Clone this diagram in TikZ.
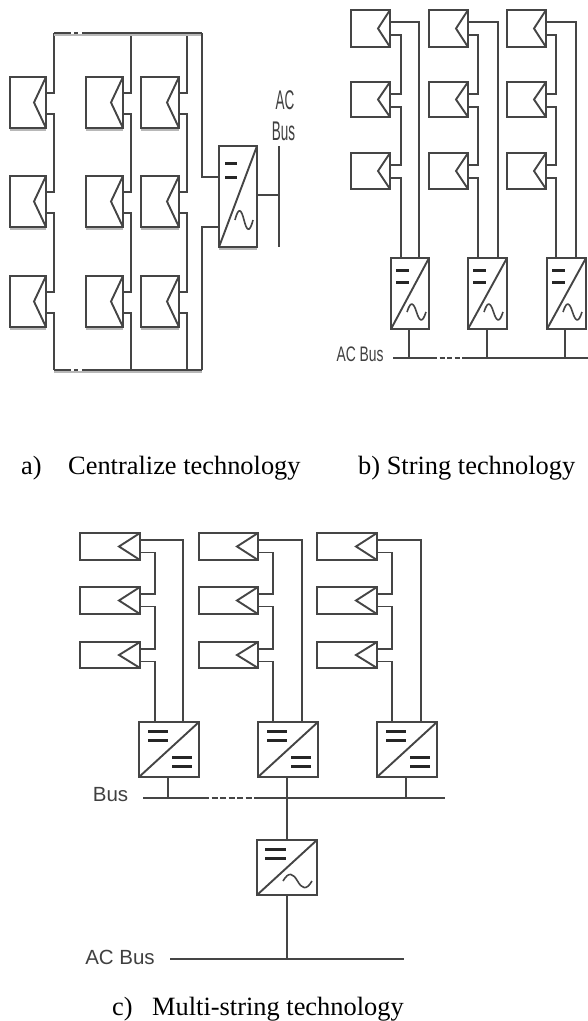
\documentclass[tikz,border=0pt]{standalone}
\usepackage{fontspec}
\setmainfont{Liberation Serif}
\newfontfamily\lblsans{Liberation Sans}
\definecolor{ink}{gray}{0.27}
\definecolor{lblink}{gray}{0.25}
\definecolor{halo}{gray}{0.72}
\tikzset{
  wire/.style={draw=ink,line width=1.9pt},
  thinwire/.style={draw=ink,line width=1.5pt},
  boxnode/.style={draw=ink,line width=2pt,inner sep=0pt,outer sep=0pt,fill=white},
  shade line/.style={draw=halo,line width=2pt},
  dcbar/.style={draw=black!85,line width=3pt},
  wave/.style={draw=ink,line width=1.6pt},
  caption/.style={inner sep=0pt,anchor=base west,text=black,font=\fontsize{26.4}{28}\selectfont},
  sanslabel/.style={inner sep=0pt,text=lblink,font=\lblsans\fontsize{20.5}{22}\selectfont},
  narrowlabel/.style={inner sep=0pt,text=lblink,font=\lblsans\fontsize{27}{28}\selectfont,xscale=0.5}
}
% name x1 y1 x2 y2 apex-offset upper-wire lower-wire
\newcommand{\pvm}[8]{%
  \node[boxnode,minimum width={(#4-#2)*1pt},minimum height={(#5-#3)*1pt}] (#1) at ({(#2+#4)/2},{(#3+#5)/2}) {};
  \coordinate (#1-apex) at ({#4-#6},{(#3+#5)/2});
  \coordinate (#1-u) at (#4,{#3+#7});
  \coordinate (#1-l) at (#4,{#3+#8});
  \draw[wire] (#1.north east) -- (#1-apex) -- (#1.south east);
}
% name x1 y1 x2 y2
\newcommand{\invb}[5]{%
  \node[boxnode,minimum width={(#4-#2)*1pt},minimum height={(#5-#3)*1pt}] (#1) at ({(#2+#4)/2},{(#3+#5)/2}) {};
  \draw[wire] (#1.south west) -- (#1.north east);
}
% x1 x2 y1 y2
\newcommand{\barpair}[4]{%
  \draw[dcbar] (#1,#3) -- (#2,#3);
  \draw[dcbar] (#1,#4) -- (#2,#4);
}
% x1 x2 ymid amplitude
\newcommand{\tld}[4]{%
  \draw[wave] (#1,#3) .. controls ({(#1)+((#2)-(#1))*.2},{#3-2*#4}) and ({(#1)+((#2)-(#1))*.35},{#3-1.5*#4}) .. ({((#1)+(#2))/2},#3)
     .. controls ({(#1)+((#2)-(#1))*.65},{#3+1.5*#4}) and ({(#1)+((#2)-(#1))*.8},{#3+2*#4}) .. (#2,#3);
}
\begin{document}
\begin{tikzpicture}[x=1pt,y=-1pt]
\useasboundingbox[fill=white] (0,0) rectangle (588,1021);

%% ---------- a) centralized
\foreach \c/\xa/\xb/\xw in {1/10/46/54,2/86/123/131,3/141/179/187}{
  \coordinate (atop\c) at (\xw,33);
  \coordinate (abot\c) at (\xw,370);
  \foreach \r/\ya/\yb in {1/77/128,2/176/227,3/276/327}{
    \draw[shade line] (\xa,\yb+2) -- (\xb,\yb+2);
    \pvm{a\c\r}{\xa}{\ya}{\xb}{\yb}{12}{16}{37}
  }
  \draw[wire] (a\c1-u) -| (atop\c);
  \draw[wire] (a\c1-l) -- ++(8,0) |- (a\c2-u);
  \draw[wire] (a\c2-l) -- ++(8,0) |- (a\c3-u);
  \draw[wire] (a\c3-l) -| (abot\c);
}
\coordinate (atopR) at (202,33);
\coordinate (abotR) at (202,370);
\coordinate (atopGa) at (71,33);
\coordinate (atopGb) at (74,33);
\coordinate (atopGc) at (78,33);
\coordinate (atopGd) at (82,33);
\coordinate (abotGa) at (71,370);
\coordinate (abotGb) at (74,370);
\coordinate (abotGc) at (78,370);
\coordinate (abotGd) at (82,370);
\draw[shade line] (54,35) -- (202,35);
\draw[shade line] (54,372) -- (202,372);
\draw[wire] (atop1) -- (atopGa) (atopGb) -- (atopGc) (atopGd) -- (atopR);
\draw[wire] (abot1) -- (abotGa) (abotGb) -- (abotGc) (abotGd) -- (abotR);
\draw[shade line] (219,249) -- (257,249);
\invb{ainv}{219}{146}{257}{247}
\coordinate (ainA) at (219,177);
\coordinate (ainB) at (219,227);
\coordinate (aout) at (257,195);
\coordinate (abusT) at (279,146);
\coordinate (abusM) at (279,195);
\coordinate (abusB) at (279,247);
\draw[wire] (atopR) |- (ainA);
\draw[wire] (abotR) |- (ainB);
\draw[wire] (aout) -- (abusM);
\draw[thinwire] (abusT) -- (abusB);
\barpair{225}{237}{163}{177}
\tld{235}{253}{220}{7}
\node[narrowlabel] (aAC) at (285,100) {AC};
\node[narrowlabel] (aBus) at (283.5,131) {Bus};

%% ---------- b) string
\foreach \c/\xa/\xb/\xs/\xr/\ia/\ib/\xd in {1/351/390/401/419/391/429/409,2/429/468/478/498/468/507/487,3/507/546/556/576/547/586/565}{
  \foreach \r/\ya/\yb in {1/10/47,2/82/117,3/153/189}{
    \pvm{b\c\r}{\xa}{\ya}{\xb}{\yb}{12}{12}{25}
  }
  \invb{binv\c}{\ia}{258}{\ib}{329}
  \coordinate (bs\c) at (\xs,258);
  \coordinate (br\c) at (\xr,258);
  \coordinate (bd\c) at (\xd,329);
  \coordinate (bj\c) at (\xd,358);
  \draw[wire] (b\c1-l) -- ++(\xs-\xb,0) |- (b\c2-u);
  \draw[wire] (b\c2-l) -- ++(\xs-\xb,0) |- (b\c3-u);
  \draw[wire] (b\c3-l) -| (bs\c);
  \draw[wire] (b\c1-u) -| (br\c);
  \draw[thinwire] (bd\c) -- (bj\c);
  \barpair{\ia+5}{\ia+18}{270}{282}
  \tld{\ia+16}{\ia+35}{312}{6}
}
\coordinate (bbusL) at (393,358);
\coordinate (bbusA) at (432,358);
\coordinate (bbusB) at (465,358);
\coordinate (bbusR) at (588,358);
\draw[wire] (bbusL) -- (bbusA);
\draw[wire,dash pattern=on 5pt off 2.5pt] (bbusA) -- (bbusB);
\draw[wire] (bbusB) -- (bbusR);
\node[inner sep=0pt,text=lblink,font=\lblsans\fontsize{21}{22}\selectfont,xscale=0.66] (bAC) at (360,354) {AC Bus};

%% ---------- c) multi-string
\foreach \c/\xa/\xb/\xs/\xr/\ia/\ib/\xd in {1/80/140/155/183/139/199/168,2/199/258/273/302/258/318/287,3/317/377/392/421/377/437/406}{
  \foreach \r/\ya/\yb in {1/533/560,2/587/614,3/642/668}{
    \pvm{c\c\r}{\xa}{\ya}{\xb}{\yb}{21}{7}{19.5}
  }
  \invb{cinv\c}{\ia}{722}{\ib}{777}
  \coordinate (cs\c) at (\xs,722);
  \coordinate (cr\c) at (\xr,722);
  \coordinate (cd\c) at (\xd,777);
  \coordinate (cj\c) at (\xd,798);
  \draw[wire] (c\c1-l) -- ++(\xs-\xb,0) |- (c\c2-u);
  \draw[wire] (c\c2-l) -- ++(\xs-\xb,0) |- (c\c3-u);
  \draw[wire] (c\c3-l) -| (cs\c);
  \draw[wire] (c\c1-u) -| (cr\c);
  \draw[wire] (cd\c) -- (cj\c);
  \barpair{\ia+9}{\ia+29}{731}{740}
  \barpair{\ia+33}{\ia+53}{757}{766}
}
\coordinate (cbusL) at (143,798);
\coordinate (cbusA) at (203,798);
\coordinate (cbusB) at (255,798);
\coordinate (cbusR) at (445,798);
\draw[wire] (cbusL) -- (cbusA);
\draw[wire,dash pattern=on 6pt off 2.5pt] (cbusA) -- (cbusB);
\draw[wire] (cbusB) -- (cbusR);
\invb{cinv}{257}{840}{317}{895}
\coordinate (cinT) at (287,840);
\coordinate (cinB) at (287,895);
\coordinate (cacJ) at (287,959);
\coordinate (cacL) at (170,959);
\coordinate (cacR) at (404,959);
\draw[wire] (cj2) -- (cinT);
\draw[wire] (cinB) -- (cacJ);
\draw[wire] (cacL) -- (cacR);
\barpair{265}{286}{849}{858}
\tld{283}{312}{881}{5}
\node[sanslabel] (cBus) at (110.5,795) {Bus};
\node[sanslabel] (cAC) at (120,957) {AC Bus};

%% ---------- captions
\node[caption] (capa1) at (21,474) {a)};
\node[caption] (capa2) at (68,474) {Centralize technology};
\node[caption] (capb) at (358,474) {b) String technology};
\node[caption] (capc1) at (112,1015) {c)};
\node[caption] (capc2) at (152,1015) {Multi-string technology};
\end{tikzpicture}
\end{document}
